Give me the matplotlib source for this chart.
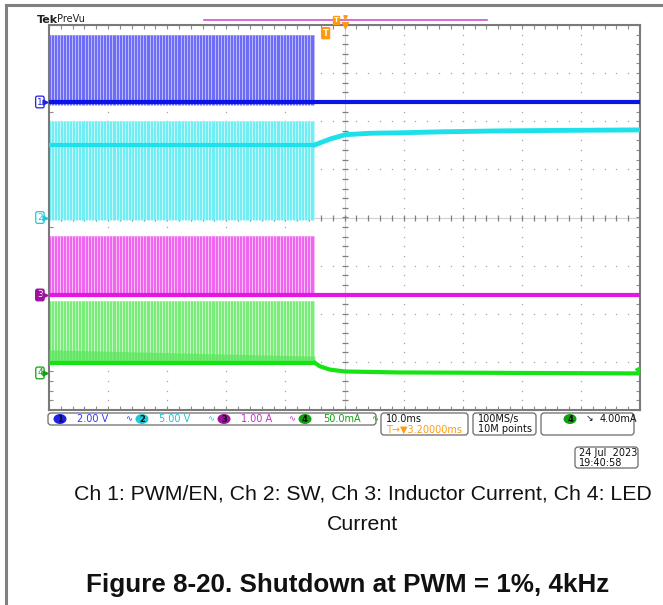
import numpy as np
import matplotlib.pyplot as plt
from matplotlib.patches import FancyBboxPatch, Ellipse

W, H = 663, 605

# scope time base: 10 ms/div, 10 x 8 divisions, PWM at 4 kHz
t_left, t_right = -50.0, 50.0
pwm_period_ms = 1.0 / 4.0
shutdown_ms = -5.0
trigger_ms = -3.2

names = ["1", "2", "3", "4"]
# ground markers (div from centre)
ch_ground = [2.40, 0.0, -1.61, -3.23]
# switching envelope and baseline while the converter runs (div)
ch_pulse_top = [3.79, 2.01, -0.38, -1.74]
ch_pulse_bot = [2.33, -0.06, -1.64, -3.05]
ch_base_on = [2.40, 1.51, -1.61, -3.02]

# ch2 SW node after shutdown (ms, div)
sw_tail_t = [-5.0, -2.45, 0.1, 4.3, 9.4, 16.2, 26.3, 36.5, 50.0]
sw_tail_v = [1.51, 1.63, 1.72, 1.75, 1.76, 1.78, 1.80, 1.81, 1.82]
# ch4 LED current after shutdown
led_tail_t = [-5.0, -4.2, -2.5, 0.1, 9.4, 50.0]
led_tail_v = [-3.02, -3.09, -3.16, -3.20, -3.22, -3.24]
# ch4 ripple band top at start / end of switching
led_band_t = [-50.0, -5.0]
led_band_v = [-2.75, -2.88]
led_trig_ma = 4.0
led_ma_per_div = 50.0

base_col = ["#0a14e6", "#1ee0ea", "#e414e4", "#14e414"]
line_col = ["#6a6af6", "#6eeef4", "#f064f0", "#78ec78"]
fill_col = ["#b8b8fa", "#c0f8fa", "#f8bcf8", "#c0f6c0"]
mark_col = ["#2020e0", "#20c8d8", "#a010a0", "#10a010"]

scale_txt = ["2.00 V", "5.00 V", "1.00 A", "50.0mA"]
scale_x = [77, 159, 241, 323]
badge_x = [60, 142, 224, 305]
bw_x = [125, 207, 288, 371]
text_col = ["#3434ff", "#1ec4d4", "#c42cc4", "#12a012"]

fig = plt.figure(figsize=(W / 100, H / 100), dpi=100)

# graticule axes
ax = fig.add_axes([49 / W, 1 - 410 / H, 591 / W, 385 / H])
ax.set_xlim(t_left, t_right)
ax.set_ylim(-4, 4)
for s in ax.spines.values():
    s.set_color("#7a7a7a")
    s.set_linewidth(1.5)
ax.set_xticks(np.arange(t_left, t_right + 0.1, 2.0))
ax.set_yticks(np.arange(-4, 4.01, 0.2))
ax.tick_params(direction="in", length=3, color="#8a8a8a", width=0.8,
               top=True, right=True, labelbottom=False, labelleft=False)

dot_y = np.arange(-4, 4.01, 0.2)
dot_x = np.arange(t_left, t_right + 0.1, 2.0)
for xd in np.arange(-40, 41, 10):
    if xd != 0:
        ax.plot(np.full_like(dot_y, xd), dot_y, ls="none", marker="s",
                ms=0.9, mew=0, color="#a4a4a4", zorder=1)
for yd in np.arange(-3, 4, 1):
    if yd != 0:
        ax.plot(dot_x, np.full_like(dot_x, yd), ls="none", marker="s",
                ms=0.9, mew=0, color="#a4a4a4", zorder=1)
ax.axvline(0, color="#d0d0d0", lw=0.8, zorder=1)
ax.axhline(0, color="#d0d0d0", lw=0.8, zorder=1)
ax.plot(np.zeros_like(dot_y), dot_y, ls="none", marker="_", ms=4,
        mew=0.9, color="#808080", zorder=1)
ax.plot(dot_x, np.zeros_like(dot_x), ls="none", marker="|", ms=4,
        mew=0.9, color="#808080", zorder=1)

pulse_t = np.arange(t_left, shutdown_ms, pwm_period_ms)
on_t = [t_left, shutdown_ms]

for i in range(4):
    ax.fill_between(on_t, ch_pulse_bot[i], ch_pulse_top[i],
                    color=fill_col[i], lw=0, zorder=2)
    ax.vlines(pulse_t, ch_pulse_bot[i], ch_pulse_top[i],
              color=line_col[i], lw=0.7, zorder=2)

# ch4 ripple band
ax.fill_between(led_band_t, ch_base_on[3], led_band_v,
                color="#5ce65c", lw=0, alpha=0.7, zorder=3)

# baselines
ax.plot([t_left, t_right], [ch_base_on[0]] * 2, color=base_col[0], lw=3,
        zorder=4, solid_capstyle="butt")
ax.plot(on_t, [ch_base_on[1]] * 2, color=base_col[1], lw=3, zorder=4,
        solid_capstyle="butt")
ax.plot(sw_tail_t, sw_tail_v, color=base_col[1], lw=3.5, zorder=4)
ax.plot([t_left, t_right], [ch_base_on[2]] * 2, color=base_col[2], lw=3,
        zorder=4, solid_capstyle="butt")
ax.plot(on_t, [ch_base_on[3]] * 2, color=base_col[3], lw=3, zorder=4,
        solid_capstyle="butt")
ax.plot(led_tail_t, led_tail_v, color=base_col[3], lw=3, zorder=4)

# channel ground markers
for i in range(4):
    filled = i == 2
    ax.annotate(names[i], xy=(t_left, ch_ground[i]), xytext=(-4.5, 0),
                textcoords="offset points", ha="right", va="center",
                fontsize=6.5, color="white" if filled else mark_col[i],
                annotation_clip=False,
                bbox=dict(boxstyle="round,pad=0.15,rounding_size=0.2",
                          fc=mark_col[i] if filled else "white",
                          ec=mark_col[i], lw=0.9))
    ax.plot(t_left - 0.6, ch_ground[i], marker=">", ms=3.5,
            color=mark_col[i], clip_on=False, zorder=6)

# ch4 trigger level
ax.plot(t_right - 0.5, ch_ground[3] + led_trig_ma / led_ma_per_div,
        marker="<", ms=3, color=base_col[3], clip_on=False, zorder=6)

# trigger marker inside the graticule
ax.text(trigger_ms, 3.83, "T", ha="center", va="center", fontsize=6,
        color="white", fontweight="bold",
        bbox=dict(boxstyle="round,pad=0.12", fc="#ff9a10", ec="#ff9a10"))

# record overview bar above the graticule
ax.plot([-23.8, 24.1], [4.104, 4.104], color="#d050d0", lw=1.2,
        clip_on=False)
ax.text(-1.4, 4.104, "T", ha="center", va="center", fontsize=5,
        color="white", fontweight="bold", clip_on=False,
        bbox=dict(boxstyle="square,pad=0.1", fc="#ff9a10", ec="#ff9a10"))
ax.plot(0, 4.0, marker="v", ms=5, color="#ff9a10", clip_on=False, zorder=6)
ax.plot(0, 4.17, marker="v", ms=2.5, color="#ff9a10", clip_on=False,
        zorder=6)

# overlay in pixel units for frame, readouts and caption
ov = fig.add_axes([0, 0, 1, 1], zorder=10)
ov.set_xlim(0, W)
ov.set_ylim(H, 0)
ov.axis("off")
ov.patch.set_alpha(0)

ov.plot([6, W], [5, 5], color="#808080", lw=2.2)
ov.plot([6, 6], [5, H], color="#808080", lw=2.2)

ov.text(37, 20, "Tek", fontsize=8, fontweight="bold", va="center",
        ha="left", color="#202020")
ov.text(57, 19.5, "PreVu", fontsize=7, va="center", ha="left",
        color="#202020")


def rbox(x0, y0, x1, y1):
    ov.add_patch(FancyBboxPatch((x0, y0), x1 - x0, y1 - y0,
                                boxstyle="round,pad=0,rounding_size=3",
                                fc="white", ec="#6a6a6a", lw=0.9))


def badge(x, y, txt, col):
    ov.add_patch(Ellipse((x, y), 13, 10, fc=col, ec="none"))
    ov.text(x, y, txt, fontsize=6, ha="center", va="center",
            color="#101010", fontweight="bold")


rt = dict(fontsize=7, va="center", ha="left", family="DejaVu Sans")
rbox(48, 413, 376, 425)
for i in range(4):
    badge(badge_x[i], 419, names[i], mark_col[i])
    ov.text(scale_x[i], 419, scale_txt[i], color=text_col[i], **rt)
    ov.text(bw_x[i], 419, "\u223f", color=text_col[i], fontsize=6,
            va="center", ha="left")

rbox(381, 413, 468, 435)
ov.text(386, 419, "10.0ms", color="#101010", **rt)
ov.text(386, 429.5, "T\u2192\u25bc3.20000ms", color="#ff9a10", **rt)

rbox(473, 413, 536, 435)
ov.text(478, 419, "100MS/s", color="#101010", **rt)
ov.text(478, 429.5, "10M points", color="#101010", **rt)

rbox(541, 413, 634, 435)
badge(570, 419, "4", mark_col[3])
ov.text(586, 419, "\u2198", color="#101010", fontsize=6.5, va="center",
        ha="left")
ov.text(600, 419, "4.00mA", color="#101010", **rt)

rbox(575, 447, 638, 468)
ov.text(579, 452.5, "24 Jul  2023", color="#101010", **rt)
ov.text(579, 462.5, "19:40:58", color="#101010", **rt)

cap = dict(family="Liberation Sans", ha="center", va="center",
           color="#111111")
ov.text(363, 494, "Ch 1: PWM/EN, Ch 2: SW, Ch 3: Inductor Current, Ch 4: LED",
        fontsize=15.3, **cap)
ov.text(362, 524, "Current", fontsize=15.3, **cap)
ov.text(348, 585, "Figure 8-20. Shutdown at PWM = 1%, 4kHz", fontsize=18.7,
        fontweight="bold", **cap)

fig.savefig("out.png", dpi=100)
